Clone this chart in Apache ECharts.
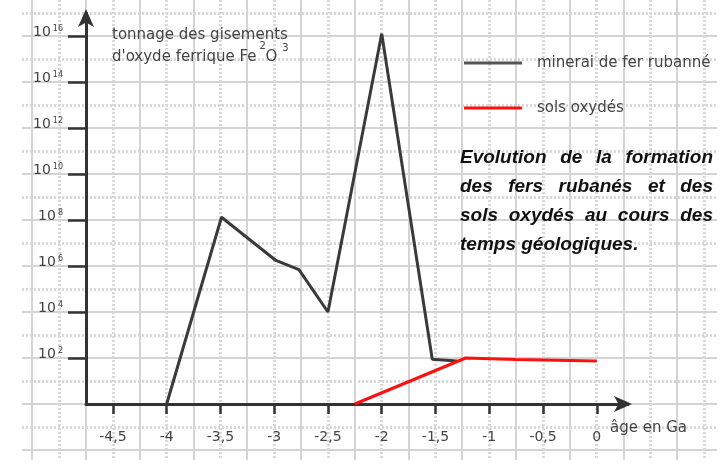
<!DOCTYPE html>
<html>
<head>
<meta charset="utf-8">
<style>
  html, body { margin: 0; padding: 0; background: #fff; }
  #chart { width: 725px; height: 465px; }
</style>
<script src="https://cdn.jsdelivr.net/npm/echarts@6.0.0/dist/echarts.min.js"></script>
</head>
<body>
<div id="chart"></div>
<script>
// ages en Ga, tonnages en exposant de 10
var ironAge = [-4, -3.49, -2.99, -2.77, -2.5, -2.0, -1.53, -1.3];
var ironExp = [0, 8.12, 6.26, 5.84, 4.0, 16.1, 1.95, 1.87];
var soilAge = [-2.25, -1.22, -0.75, 0];
var soilExp = [0, 2.0, 1.93, 1.87];
var ageTicks = [-4.5, -4, -3.5, -3, -2.5, -2, -1.5, -1, -0.5, 0];
var expTicks = [2, 4, 6, 8, 10, 12, 14, 16];
var seriesNames = ['minerai de fer rubanné', 'sols oxydés'];
var noteLines = ['Evolution de la formation', 'des fers rubanés et des', 'sols oxydés au cours des', 'temps géologiques.'];

var FONT = '"DejaVu Sans", sans-serif';
var TXT = '#444';

function pairs(xs, ys) {
    return xs.map(function (x, i) { return [x, ys[i]]; });
}

var ctx = document.createElement('canvas').getContext('2d');

// texte justifié comme dans l'original
var noteFont = 'italic bold 19px "Liberation Sans", Arial, sans-serif';
ctx.font = noteFont;
var noteElems = [];
var noteLeft = 460, noteWidth = 253;
noteLines.forEach(function (line, i) {
    var words = line.split(' ');
    var ws = words.map(function (w) { return ctx.measureText(w).width; });
    var total = ws.reduce(function (a, b) { return a + b; }, 0);
    var last = i === noteLines.length - 1;
    var gap = last ? ctx.measureText(' ').width : (noteWidth - total) / (words.length - 1);
    var x = noteLeft;
    words.forEach(function (w, j) {
        noteElems.push({
            type: 'text', x: x, y: 158 + 29 * i, z: 20,
            style: {text: w, font: noteFont, fill: '#111', verticalAlign: 'middle'}
        });
        x += ws[j] + gap;
    });
});

// titre de l'axe vertical, avec les exposants de Fe2O3 comme sur l'image
var titleFont = '15px ' + FONT;
var supFont = '10px ' + FONT;
ctx.font = titleFont;
var wFe = ctx.measureText("d'oxyde ferrique Fe").width;
var wO = ctx.measureText('O').width;
var titleElems = [
    {type: 'text', x: 112, y: 35, z: 20, style: {text: 'tonnage des gisements', font: titleFont, fill: TXT, verticalAlign: 'middle'}},
    {type: 'text', x: 112, y: 57, z: 20, style: {text: "d'oxyde ferrique Fe", font: titleFont, fill: TXT, verticalAlign: 'middle'}},
    {type: 'text', x: 112 + wFe + 3, y: 46, z: 20, style: {text: '2', font: supFont, fill: TXT, verticalAlign: 'middle'}},
    {type: 'text', x: 112 + wFe + 9, y: 57, z: 20, style: {text: 'O', font: titleFont, fill: TXT, verticalAlign: 'middle'}},
    {type: 'text', x: 112 + wFe + 9 + wO + 5, y: 48, z: 20, style: {text: '3', font: supFont, fill: TXT, verticalAlign: 'middle'}}
];

var SOLID = {color: '#d4d4d4', width: 2, type: 'solid'};
var DOTTED = {color: '#d8d8d8', width: 3, type: [2, 2]};

function paperX(gi, min, max, style) {
    return {
        gridIndex: gi, type: 'value', min: min, max: max, interval: 0.5,
        axisLine: {show: false}, axisTick: {show: false}, axisLabel: {show: false},
        splitLine: {show: true, lineStyle: style}
    };
}
function paperY(gi, min, max, style) {
    return {
        gridIndex: gi, type: 'value', min: min, max: max, interval: 2,
        axisLine: {show: false}, axisTick: {show: false}, axisLabel: {show: false},
        splitLine: {show: true, lineStyle: style}
    };
}
function hidden(gi) {
    return {gridIndex: gi, type: 'value', min: 0, max: 1,
        axisLine: {show: false}, axisTick: {show: false}, axisLabel: {show: false}, splitLine: {show: false}};
}

var myChart = echarts.init(document.getElementById('chart'));
var option = {
    animation: false,
    backgroundColor: '#fff',
    grid: [
        {left: 32, width: 645, top: 0, bottom: 5},   // quadrillage vertical plein
        {left: 59, width: 645, top: 0, bottom: 5},   // quadrillage vertical pointillé
        {left: 22, right: 8, top: 36, bottom: 15},   // horizontal plein
        {left: 22, right: 8, top: 13, bottom: 38},   // horizontal pointillé
        {left: 86, right: 97, top: 13, bottom: 61}   // graphique
    ],
    xAxis: [
        paperX(0, -5.25, 0.75, SOLID),
        paperX(1, -5, 1, DOTTED),
        hidden(2),
        hidden(3),
        {
            gridIndex: 4, type: 'value', min: -4.75, max: 0.29,
            axisLine: {show: true, onZero: false, symbol: ['none', 'arrow'], symbolSize: [12, 18], symbolOffset: [0, 4],
                lineStyle: {color: '#333', width: 3}},
            axisTick: {show: true, customValues: ageTicks, length: 10, lineStyle: {color: '#333', width: 2.5}},
            axisLabel: {show: true, customValues: ageTicks, margin: 26, color: TXT, fontFamily: FONT, fontSize: 14,
                formatter: function (v) { return String(v).replace('.', ','); }},
            splitLine: {show: false}
        }
    ],
    yAxis: [
        hidden(0),
        hidden(1),
        paperY(2, -2, 16, SOLID),
        paperY(3, -1, 17, DOTTED),
        {
            gridIndex: 4, type: 'value', min: 0, max: 17,
            axisLine: {show: true, onZero: false, symbol: ['none', 'arrow'], symbolSize: [12, 18], symbolOffset: [0, 4],
                lineStyle: {color: '#333', width: 3}},
            axisTick: {show: true, customValues: expTicks, length: 18, lineStyle: {color: '#333', width: 2.5}},
            axisLabel: {show: true, customValues: expTicks, margin: 23, verticalAlign: 'middle', padding: [0, 0, 8, 0],
                formatter: function (v) { return '{a|10}{b|' + v + '}'; },
                rich: {
                    a: {fontFamily: FONT, fontSize: 14, color: TXT, lineHeight: 14},
                    b: {fontFamily: FONT, fontSize: 8, color: TXT, verticalAlign: 'top', padding: [0, 0, 0, 2]}
                }},
            splitLine: {show: false}
        }
    ],
    legend: {
        orient: 'vertical', left: 459, top: 50, itemWidth: 58, itemHeight: 3, itemGap: 29, icon: 'rect',
        textStyle: {fontFamily: FONT, fontSize: 15, color: TXT, lineHeight: 16, padding: [0, 0, 0, 10]},
        data: seriesNames
    },
    graphic: [
        {
            type: 'text', x: 610, y: 428, z: 20,
            style: {text: 'âge en Ga', font: '15px ' + FONT, fill: TXT, verticalAlign: 'middle'}
        }
    ].concat(titleElems, noteElems),
    series: [
        {
            name: seriesNames[0], type: 'line', xAxisIndex: 4, yAxisIndex: 4, z: 5,
            data: pairs(ironAge, ironExp), symbol: 'none',
            lineStyle: {color: '#3a3a3a', width: 3}, itemStyle: {color: '#555'}
        },
        {
            name: seriesNames[1], type: 'line', xAxisIndex: 4, yAxisIndex: 4, z: 6,
            data: pairs(soilAge, soilExp), symbol: 'none',
            lineStyle: {color: '#ff1010', width: 3}, itemStyle: {color: '#ff1010'}
        }
    ]
};
myChart.setOption(option);
</script>
</body>
</html>
